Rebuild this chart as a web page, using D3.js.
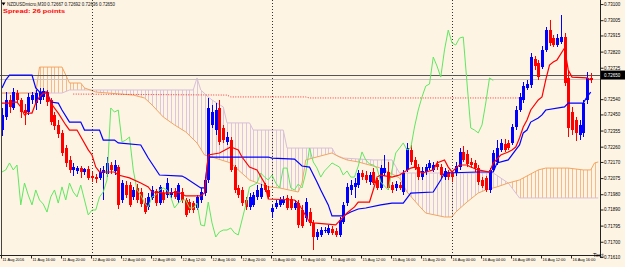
<!DOCTYPE html>
<html>
<head>
<meta charset="utf-8">
<script src="https://cdn.jsdelivr.net/npm/d3@7"></script>
<style>
html, body { margin: 0; padding: 0; background: #fdf4e4; }
svg { display: block; }
text { font-family: "Liberation Sans", Arial, sans-serif; }
</style>
</head>
<body>
<svg id="chart" width="625" height="267"></svg>
<script>
// NZDUSDmicro M30, one value per bar (bar 0 = 11 Aug 12:00)
const opens = [
  0.72358,0.72435,0.72535,0.72488,0.72576,0.72535,0.72476,0.72464,0.72535,0.72517,
  0.72535,0.72553,0.72582,0.72535,0.72447,0.72388,0.72341,0.72252,0.72182,0.72123,
  0.72117,0.72134,0.72111,0.72129,0.72087,0.72081,0.72076,0.72105,0.72099,0.72152,
  0.72117,0.72140,0.71946,0.72034,0.72034,0.71964,0.72017,0.71993,0.71928,0.71905,
  0.71958,0.71999,0.71928,0.71987,0.71975,0.71975,0.71999,0.71946,0.71993,0.71946,
  0.71934,0.71928,0.71899,0.71946,0.71987,0.72064,0.72388,0.72358,0.72488,0.72370,
  0.72288,0.72299,0.72140,0.72017,0.72005,0.71946,0.71905,0.71917,0.71964,0.71964,
  0.72034,0.72005,0.71875,0.71905,0.71917,0.71928,0.71958,0.71952,0.71899,0.71928,
  0.71887,0.71840,0.71875,0.71811,0.71728,0.71740,0.71769,0.71752,0.71775,0.71763,
  0.71740,0.71816,0.71928,0.72005,0.72023,0.72034,0.72105,0.72093,0.72052,0.72111,
  0.72064,0.72017,0.72105,0.72111,0.72034,0.72017,0.72034,0.71993,0.72123,0.72241,
  0.72182,0.72140,0.72081,0.72111,0.72134,0.72123,0.72158,0.72140,0.72081,0.72111,
  0.72105,0.72105,0.72140,0.72229,0.72217,0.72170,0.72164,0.72134,0.72064,0.72076,
  0.72005,0.72123,0.72170,0.72241,0.72276,0.72282,0.72282,0.72376,0.72476,0.72535,
  0.72606,0.72623,0.72776,0.72753,0.72729,0.72830,0.72947,0.72900,0.72859,0.72877,
  0.72906,0.72665,0.72464,0.72417,0.72329,0.72341,0.72535,0.72667
];
const highs = [
  0.72488,0.72582,0.72564,0.72606,0.72594,0.72547,0.72511,0.72576,0.72582,0.72594,
  0.72606,0.72606,0.72594,0.72547,0.72464,0.72417,0.72358,0.72270,0.72205,0.72164,
  0.72146,0.72146,0.72134,0.72146,0.72111,0.72099,0.72134,0.72146,0.72199,0.72170,
  0.72182,0.72152,0.72064,0.72058,0.72052,0.72023,0.72040,0.72017,0.71958,0.71987,
  0.72028,0.72011,0.72034,0.72005,0.72076,0.72017,0.72017,0.72046,0.72017,0.71958,
  0.71952,0.71940,0.71975,0.72017,0.72081,0.72547,0.72506,0.72517,0.72535,0.72388,
  0.72347,0.72317,0.72152,0.72034,0.72023,0.71964,0.71987,0.71993,0.72034,0.72040,
  0.72046,0.72028,0.71917,0.71946,0.71964,0.71970,0.71975,0.71970,0.71946,0.71946,
  0.71917,0.71958,0.71899,0.71828,0.71775,0.71787,0.71787,0.71799,0.71793,0.71781,
  0.71846,0.71934,0.72046,0.72064,0.72076,0.72123,0.72123,0.72117,0.72111,0.72134,
  0.72076,0.72152,0.72211,0.72170,0.72052,0.72058,0.72052,0.72123,0.72282,0.72270,
  0.72199,0.72158,0.72140,0.72158,0.72182,0.72170,0.72176,0.72158,0.72134,0.72123,
  0.72117,0.72170,0.72252,0.72264,0.72241,0.72193,0.72182,0.72152,0.72081,0.72087,
  0.72134,0.72241,0.72299,0.72305,0.72305,0.72299,0.72394,0.72500,0.72576,0.72641,
  0.72653,0.72812,0.72794,0.72771,0.72853,0.72965,0.73006,0.72918,0.72924,0.73036,
  0.72930,0.72712,0.72494,0.72435,0.72417,0.72535,0.72700,0.72692
];
const lows = [
  0.72323,0.72417,0.72458,0.72476,0.72517,0.72429,0.72388,0.72447,0.72511,0.72476,
  0.72511,0.72535,0.72500,0.72388,0.72358,0.72311,0.72205,0.72140,0.72105,0.72087,
  0.72099,0.72076,0.72093,0.72064,0.72052,0.72046,0.72064,0.71946,0.72081,0.72099,
  0.72093,0.71893,0.71928,0.71958,0.71905,0.71946,0.71928,0.71905,0.71864,0.71887,
  0.71946,0.71911,0.71917,0.71928,0.71958,0.71958,0.71952,0.71928,0.71928,0.71846,
  0.71869,0.71869,0.71887,0.71928,0.71970,0.72046,0.72370,0.72329,0.72270,0.72282,
  0.72270,0.72111,0.71987,0.71958,0.71911,0.71887,0.71887,0.71905,0.71946,0.71952,
  0.71993,0.71952,0.71840,0.71893,0.71905,0.71917,0.71887,0.71887,0.71887,0.71781,
  0.71781,0.71816,0.71793,0.71652,0.71710,0.71728,0.71752,0.71740,0.71740,0.71728,
  0.71728,0.71805,0.71911,0.71975,0.71958,0.72017,0.72064,0.72046,0.72034,0.72034,
  0.72005,0.72005,0.72087,0.72005,0.71987,0.71999,0.72005,0.71975,0.72111,0.72152,
  0.72123,0.72064,0.72064,0.72093,0.72123,0.72111,0.72123,0.72076,0.72064,0.72064,
  0.72052,0.72087,0.72123,0.72170,0.72140,0.72134,0.72111,0.72034,0.72017,0.71993,
  0.71987,0.72111,0.72152,0.72229,0.72229,0.72241,0.72270,0.72358,0.72464,0.72517,
  0.72594,0.72606,0.72712,0.72653,0.72718,0.72818,0.72853,0.72847,0.72847,0.72865,
  0.72617,0.72317,0.72329,0.72294,0.72299,0.72317,0.72511,0.72636
];
const closes = [
  0.72447,0.72535,0.72494,0.72582,0.72535,0.72464,0.72458,0.72553,0.72564,0.72576,
  0.72582,0.72588,0.72523,0.72405,0.72382,0.72335,0.72223,0.72164,0.72123,0.72140,
  0.72134,0.72111,0.72129,0.72076,0.72076,0.72070,0.72111,0.72123,0.72164,0.72123,
  0.72152,0.71917,0.72046,0.71975,0.71917,0.72005,0.71946,0.71922,0.71875,0.71964,
  0.72005,0.71928,0.72023,0.71946,0.72046,0.71993,0.71964,0.72034,0.71946,0.71858,
  0.71887,0.71887,0.71964,0.71993,0.72064,0.72488,0.72464,0.72476,0.72288,0.72299,
  0.72317,0.72123,0.72005,0.71975,0.71928,0.71905,0.71964,0.71975,0.72005,0.72017,
  0.72005,0.71964,0.71899,0.71928,0.71946,0.71946,0.71899,0.71899,0.71928,0.71799,
  0.71793,0.71934,0.71811,0.71728,0.71758,0.71769,0.71769,0.71781,0.71752,0.71740,
  0.71828,0.71917,0.72023,0.72034,0.72046,0.72105,0.72081,0.72064,0.72093,0.72046,
  0.72017,0.72134,0.72134,0.72017,0.72005,0.72040,0.72017,0.72105,0.72252,0.72170,
  0.72134,0.72081,0.72117,0.72140,0.72164,0.72152,0.72140,0.72093,0.72117,0.72081,
  0.72081,0.72146,0.72229,0.72182,0.72158,0.72152,0.72134,0.72052,0.72028,0.72005,
  0.72123,0.72223,0.72252,0.72282,0.72241,0.72252,0.72376,0.72476,0.72553,0.72617,
  0.72629,0.72788,0.72735,0.72670,0.72830,0.72947,0.72871,0.72859,0.72900,0.72906,
  0.72635,0.72370,0.72358,0.72341,0.72388,0.72517,0.72665,0.72650
];

// Ichimoku lines as [bar, price] vertices
const tenkan = [[0,0.72517],[2,0.72517],[3,0.72523],[4,0.72523],[5,0.72494],[6,0.72447],[7,0.72458],[8,0.72458],[9,0.72517],[10,0.72553],[11,0.72576],[12,0.72576],[13,0.72517],[15,0.72458],[17,0.72388],[18,0.72358],[20,0.72358],[23,0.72241],[24,0.72211],[25,0.72140],[26,0.72111],[30,0.72111],[31,0.72093],[34,0.72076],[37,0.72046],[39,0.72023],[40,0.71993],[44,0.71987],[47,0.71993],[49,0.71970],[53,0.71970],[54,0.71987],[55,0.72211],[58,0.72223],[61,0.72258],[63,0.72241],[64,0.72199],[66,0.72140],[68,0.72123],[70,0.72046],[71,0.71952],[78,0.71946],[79,0.71928],[82,0.71816],[83,0.71811],[89,0.71799],[91,0.71846],[92,0.71869],[94,0.71905],[95,0.71934],[98,0.71934],[99,0.72005],[100,0.72081],[101,0.72093],[104,0.72081],[106,0.72093],[109,0.72134],[110,0.72140],[112,0.72105],[113,0.72111],[115,0.72123],[116,0.72164],[118,0.72182],[119,0.72140],[120,0.72111],[121,0.72134],[122,0.72152],[124,0.72152],[125,0.72140],[127,0.72123],[130,0.72111],[131,0.72164],[133,0.72211],[135,0.72229],[136,0.72241],[137,0.72258],[138,0.72311],[139,0.72376],[140,0.72417],[141,0.72476],[143,0.72535],[144,0.72553],[145,0.72653],[146,0.72741],[147,0.72759],[148,0.72771],[150,0.72841],[151,0.72712],[152,0.72670],[156,0.72665],[157,0.72653]];
const kijun = [[0,0.72606],[1,0.72653],[2,0.72682],[8,0.72682],[9,0.72606],[10,0.72582],[12,0.72582],[13,0.72523],[15,0.72517],[16,0.72476],[18,0.72405],[21,0.72405],[22,0.72358],[26,0.72358],[27,0.72299],[30,0.72299],[31,0.72282],[37,0.72270],[39,0.72193],[42,0.72093],[48,0.72087],[49,0.72076],[53,0.72017],[54,0.72017],[55,0.72199],[71,0.72199],[72,0.72193],[78,0.72187],[80,0.72146],[82,0.72140],[84,0.72052],[85,0.72005],[87,0.71917],[88,0.71852],[91,0.71852],[93,0.71875],[95,0.71893],[97,0.71899],[101,0.71917],[104,0.71928],[107,0.71928],[109,0.71987],[115,0.71993],[117,0.72064],[118,0.72105],[127,0.72111],[131,0.72111],[132,0.72164],[135,0.72182],[137,0.72241],[138,0.72270],[139,0.72341],[140,0.72358],[141,0.72405],[143,0.72429],[144,0.72447],[145,0.72476],[150,0.72494],[151,0.72517],[155,0.72517],[156,0.72553],[157,0.72582]];
const senkouA = [[0,0.72576],[9,0.72576],[10,0.72729],[16,0.72729],[18,0.72635],[21,0.72635],[22,0.72606],[25,0.72582],[35,0.72564],[38,0.72547],[40,0.72506],[43,0.72435],[46,0.72388],[49,0.72347],[52,0.72282],[54,0.72211],[56,0.72199],[61,0.72164],[63,0.72123],[66,0.72064],[71,0.72023],[74,0.72017],[79,0.71993],[80,0.72046],[81,0.72182],[88,0.72223],[90,0.72199],[92,0.72182],[95,0.72170],[101,0.72134],[106,0.72076],[108,0.71993],[111,0.71917],[113,0.71869],[118,0.71846],[120,0.71846],[121,0.71875],[124,0.71934],[127,0.71987],[129,0.72005],[132,0.72023],[135,0.72046],[138,0.72064],[143,0.72123],[145,0.72134],[151,0.72134],[155,0.72123],[157,0.72123],[158,0.72164],[159,0.72170]];
const senkouB = [[0,0.72576],[16,0.72576],[18,0.72594],[51,0.72594],[52,0.72665],[53,0.72594],[55,0.72553],[56,0.72535],[59,0.72494],[60,0.72400],[66,0.72400],[67,0.72358],[75,0.72358],[76,0.72252],[88,0.72252],[89,0.72211],[91,0.72193],[99,0.72182],[104,0.72182],[106,0.72105],[131,0.72105],[135,0.72046],[138,0.71958],[159,0.71958]];
const chikouShift = 26;

// other levels on the chart
const redLevel = [[19,0.72570],[60,0.72564],[61,0.72553],[81,0.72553],[82,0.72547],[138,0.72547]];
const bidLine = 0.72682;
const askLine = 0.72659;
const daySeparators = [24, 72, 120];

const priceTicks = [0.73100,0.73005,0.72915,0.72820,0.72725,0.72540,0.72450,0.72355,0.72260,0.72170,0.72075,0.71980,0.71890,0.71795,0.71700,0.71610];
const timeLabelBars = [0,8,16,24,32,40,48,56,64,72,80,88,96,104,112,120,128,136,144,152];
const timeLabels = ['11 Aug 2016','11 Aug 16:00','11 Aug 20:00','12 Aug 00:00','12 Aug 04:00','12 Aug 08:00','12 Aug 12:00','12 Aug 16:00','12 Aug 20:00','15 Aug 00:00','15 Aug 04:00','15 Aug 08:00','15 Aug 12:00','15 Aug 16:00','15 Aug 20:00','16 Aug 00:00','16 Aug 04:00','16 Aug 08:00','16 Aug 12:00','16 Aug 16:00'];

const W = 625, H = 267, plotW = 600, plotH = 255;
const svg = d3.select('#chart');
svg.append('rect').attr('width', W).attr('height', H).attr('fill', '#fdf4e4');

const x = d3.scaleLinear().domain([0, 157]).range([2, 590.75]);
const y = d3.scaleLinear().domain([0.73124, 0.71622]).range([0, plotH]);
const px = i => Math.round(x(i)) + 0.5;

const defs = svg.append('defs');
defs.append('clipPath').attr('id', 'plotClip')
  .append('rect').attr('width', plotW).attr('height', plotH);

const belowArea = d3.area().x(d => x(d[0])).y0(plotH).y1(d => y(d[1]));
const aboveArea = d3.area().x(d => x(d[0])).y0(0).y1(d => y(d[1]));
[['belowA', belowArea(senkouA)], ['aboveA', aboveArea(senkouA)],
 ['belowB', belowArea(senkouB)], ['aboveB', aboveArea(senkouB)]]
  .forEach(([id, d]) => defs.append('clipPath').attr('id', id).append('path').attr('d', d));

const plot = svg.append('g').attr('clip-path', 'url(#plotClip)');

// cloud hatching: one vertical stroke per bar, kept between the two spans
const hatchBars = d3.range(0, senkouA[senkouA.length - 1][0] + 1);
function hatch(outer, inner, color) {
  plot.append('g').attr('clip-path', `url(#${outer})`)
    .append('g').attr('clip-path', `url(#${inner})`)
    .selectAll('line').data(hatchBars).join('line')
    .attr('x1', d => px(d)).attr('x2', d => px(d))
    .attr('y1', 0).attr('y2', plotH)
    .attr('stroke', color).attr('stroke-width', 1);
}
hatch('belowA', 'aboveB', '#f6b98a');
hatch('belowB', 'aboveA', '#dcc6dc');

const line = d3.line().x(d => x(d[0])).y(d => y(d[1]));

plot.append('path').attr('d', line(senkouB)).attr('fill', 'none')
  .attr('stroke', '#d8bfd8').attr('stroke-width', 1);
plot.append('path').attr('d', line(senkouA)).attr('fill', 'none')
  .attr('stroke', '#f4a460').attr('stroke-width', 1);

// day separators
plot.selectAll('.sep').data(daySeparators).join('line')
  .attr('class', 'sep')
  .attr('x1', d => px(d)).attr('x2', d => px(d))
  .attr('y1', 0).attr('y2', plotH)
  .attr('stroke', '#333').attr('stroke-width', 1)
  .attr('stroke-dasharray', '1,2');

plot.append('path').attr('d', line(redLevel)).attr('fill', 'none')
  .attr('stroke', '#ff3030').attr('stroke-width', 1)
  .attr('stroke-dasharray', '1,1.5');

plot.append('line').attr('x1', 0).attr('x2', plotW)
  .attr('y1', Math.round(y(askLine)) + 0.5).attr('y2', Math.round(y(askLine)) + 0.5)
  .attr('stroke', '#c9c1c1').attr('stroke-width', 1);
plot.append('line').attr('x1', 0).attr('x2', plotW)
  .attr('y1', Math.round(y(bidLine)) + 0.5).attr('y2', Math.round(y(bidLine)) + 0.5)
  .attr('stroke', '#555').attr('stroke-width', 1);

// candles
const bars = d3.range(opens.length).map(i => ({ i, o: opens[i], h: highs[i], l: lows[i], c: closes[i] }));
const colorOf = d => d.c < d.o ? '#ff0000' : '#0000ff';
const candles = plot.append('g').attr('shape-rendering', 'crispEdges');
candles.selectAll('line').data(bars).join('line')
  .attr('x1', d => px(d.i)).attr('x2', d => px(d.i))
  .attr('y1', d => y(d.h)).attr('y2', d => y(d.l))
  .attr('stroke', colorOf).attr('stroke-width', 1);
candles.selectAll('rect').data(bars).join('rect')
  .attr('x', d => Math.round(x(d.i)) - 1)
  .attr('width', 3)
  .attr('y', d => y(Math.max(d.o, d.c)))
  .attr('height', d => Math.max(1, Math.abs(y(d.o) - y(d.c))))
  .attr('fill', colorOf);

// Ichimoku lines on top
const chikou = closes.slice(chikouShift).map((c, i) => [i, c]);
plot.append('path').attr('d', line(chikou)).attr('fill', 'none')
  .attr('stroke', '#5fe85f').attr('stroke-width', 1);
plot.append('path').attr('d', line(kijun)).attr('fill', 'none')
  .attr('stroke', '#0000ff').attr('stroke-width', 1.2);
plot.append('path').attr('d', line(tenkan)).attr('fill', 'none')
  .attr('stroke', '#ff0000').attr('stroke-width', 1.2);

// frame
svg.append('line').attr('x1', 1.5).attr('x2', 1.5).attr('y1', 0).attr('y2', plotH)
  .attr('stroke', '#444');
svg.append('line').attr('x1', 0).attr('x2', plotW + 0.5).attr('y1', plotH + 0.5).attr('y2', plotH + 0.5)
  .attr('stroke', '#222');

// price axis
const yAxis = svg.append('g').attr('transform', `translate(${plotW + 0.5},0)`)
  .call(d3.axisRight(y).tickValues(priceTicks).tickSize(3).tickSizeOuter(0)
    .tickFormat(d3.format('.5f')));
yAxis.select('.domain').attr('stroke', '#222').attr('d', `M0,0V${plotH + 3}`);
yAxis.selectAll('.tick line').attr('stroke', '#222');
yAxis.selectAll('.tick text').attr('x', 3.5).attr('font-size', 4.5)
  .attr('font-family', '"Liberation Sans", Arial, sans-serif').attr('fill', '#000');

// current price box
const last = closes[closes.length - 1];
svg.append('rect').attr('x', plotW + 1).attr('y', y(bidLine) - 4.5)
  .attr('width', W - plotW - 1).attr('height', 9).attr('fill', '#000');
svg.append('text').attr('x', plotW + 4).attr('y', y(bidLine))
  .attr('dy', '0.35em').attr('font-size', 4.5).attr('fill', '#fff')
  .text(d3.format('.5f')(last));

// time axis
const xAxis = svg.append('g').attr('transform', `translate(0,${plotH + 0.5})`)
  .call(d3.axisBottom(x).tickValues(timeLabelBars).tickSize(3).tickSizeOuter(0)
    .tickFormat((d, i) => timeLabels[i]));
xAxis.select('.domain').remove();
xAxis.selectAll('.tick line').attr('stroke', '#222').attr('transform', 'translate(-1,0)');
xAxis.selectAll('.tick text').attr('text-anchor', 'start').attr('x', 0).attr('y', 3)
  .attr('font-size', 3.9).attr('font-family', '"Liberation Sans", Arial, sans-serif')
  .attr('fill', '#000');

svg.append('text').attr('x', 593).attr('y', 256.5).attr('font-size', 5.8)
  .attr('fill', '#000').text('Text');

// header
svg.append('path').attr('d', 'M1.5,2.5L5.5,2.5L3.5,5.5Z').attr('fill', '#000');
svg.append('text').attr('x', 7).attr('y', 6).attr('font-size', 4.5).attr('fill', '#111')
  .attr('textLength', 108).attr('lengthAdjust', 'spacingAndGlyphs')
  .text('NZDUSDmicro,M30  0.72667 0.72692 0.72636 0.72650');
svg.append('text').attr('x', 3).attr('y', 13).attr('font-size', 6.2)
  .attr('font-family', '"Liberation Mono", "Courier New", monospace').attr('font-weight', 'bold')
  .attr('fill', '#ff0000').attr('textLength', 62).attr('lengthAdjust', 'spacingAndGlyphs')
  .text('Spread: 26 points');
</script>
</body>
</html>
